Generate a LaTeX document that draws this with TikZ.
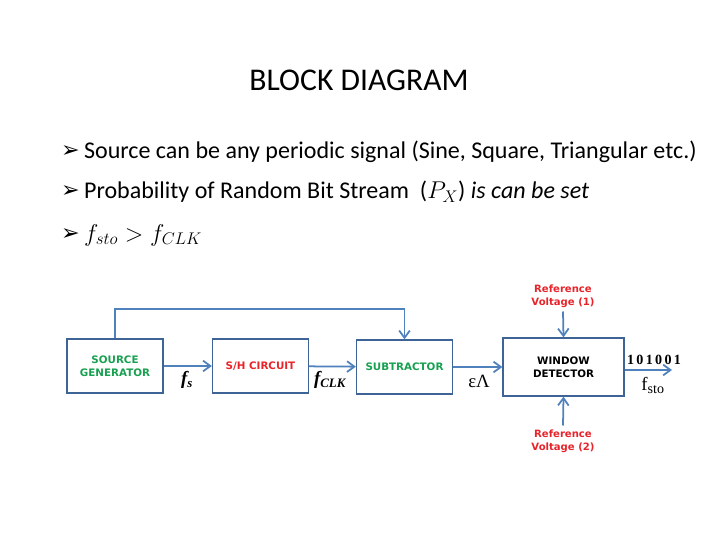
\documentclass[tikz,border=0pt]{standalone}
\usepackage{fontspec}
\setmainfont{Carlito}
\newfontfamily\boxfont{DejaVu Sans}
\newfontfamily\symfont{DejaVu Sans}
\newfontfamily\labfont{Liberation Serif}
\usetikzlibrary{positioning, arrows.meta, calc}
\definecolor{boxblue}{HTML}{3D6494}
\definecolor{arrblue}{HTML}{4F81BD}
\definecolor{txtgreen}{HTML}{17A050}
\definecolor{txtred}{HTML}{E8242A}

\begin{document}
\begin{tikzpicture}[x=0.03cm, y=-0.03cm,
        block/.style={rectangle, draw=boxblue, line width=1.1pt, minimum width=2.88cm, minimum height=1.62cm, align=center, font=\boxfont\bfseries\fontsize{8.8}{11}\selectfont},
        wide/.style={block, minimum width=3.63cm, minimum height=1.74cm},
        arr/.style={draw=arrblue, line width=1.5pt, -{Straight Barb[length=2.2mm, width=3.2mm]}},
        reftext/.style={align=center, text=txtred, font=\boxfont\bfseries\fontsize{8.6}{11}\selectfont},
        sig/.style={font=\labfont\bfseries\itshape\fontsize{16}{18}\selectfont},
        bullet/.style={anchor=west, font=\fontsize{20.5}{24}\selectfont},
        pointer/.style={anchor=east, font=\symfont\fontsize{19}{22}\selectfont},
    ]
    \useasboundingbox (0,0) rectangle (720,540);

    % Title and bullets
    \node[font=\fontsize{27}{32}\selectfont] (title) at (359,80) {BLOCK DIAGRAM};
    \node[pointer] (b1) at (84,152) {➢};
    \node[bullet] (t1) at (80,152) {Source can be any periodic signal (Sine, Square, Triangular etc.)};
    \node[pointer] (b2) at (84,192) {➢};
    \node[bullet] (t2) at (80,192) {Probability of Random Bit Stream \ ($P_X$) \textit{is can be set}};
    \node[pointer] (b3) at (84,235) {➢};
    \node[bullet] (t3) at (80,235) {$f_{sto} > f_{CLK}$};

    % Blocks
    \node[block, text=txtgreen] (src) at (115,366) {SOURCE\\GENERATOR};
    \node[block, text=txtred] (sh) at (260.5,366) {S/H CIRCUIT};
    \node[block, text=txtgreen] (sub) at (404.5,367) {SUBTRACTOR};
    \node[wide] (win) at (563.5,367) {WINDOW\\DETECTOR};

    % Reference voltages
    \node[reftext] (ref1) at (563,296) {Reference\\Voltage (1)};
    \node[reftext] (ref2) at (563,441) {Reference\\Voltage (2)};

    % Connections
    \draw[arr] (src) -- (sh);
    \draw[arr] (sh) -- (sub);
    \draw[arr] (sub) -- (win);
    \coordinate (fb) at (404.5,309);
    \draw[arr] (src.north) |- (fb) -- (sub.north);
    \draw[arr] (ref1.south) -- (win.north);
    \draw[arr] (ref2.north) -- (win.south);
    \coordinate (out) at (672,370);
    \draw[arr] (win.east |- out) -- (out);

    % Signal labels
    \node[sig] (fs) at (187,380) {f\textsubscript{\fontsize{11}{12}\selectfont s}};
    \node[sig] (fclk) at (330,380) {f\textsubscript{\fontsize{11}{12}\selectfont CLK}};
    \node[font=\labfont\fontsize{16}{18}\selectfont] (ea) at (479,381) {εΛ};
    \node[font=\labfont\bfseries\fontsize{12}{14}\selectfont] (bits) at (654,360) {1\,0\,1\,0\,0\,1};
    \node[font=\labfont\fontsize{16}{18}\selectfont] (fsto) at (653,385) {f\textsubscript{\fontsize{12}{12}\selectfont sto}};
\end{tikzpicture}
\end{document}
